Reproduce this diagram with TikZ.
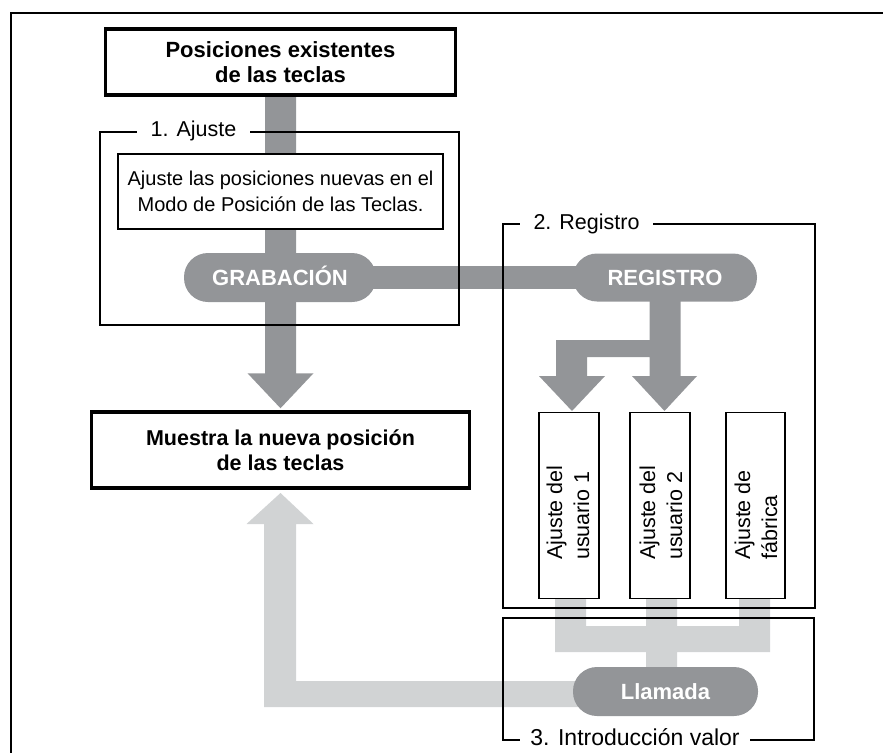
\documentclass[tikz,border=0pt]{standalone}
\usepackage{fontspec}
\setmainfont{Liberation Sans}
\usetikzlibrary{calc}
\definecolor{dkgray}{HTML}{939598}
\definecolor{ltgray}{HTML}{D1D3D4}
\pgfdeclarelayer{bg}
\pgfsetlayers{bg,main}
\begin{document}
\begin{tikzpicture}[x=1pt,y=-1pt,
  thickbox/.style={draw, line width=3.5pt, fill=white, inner sep=0pt, align=center,
    font=\bfseries\fontsize{22}{25}\selectfont},
  thinbox/.style={draw, line width=1.5pt, fill=white, inner sep=0pt},
  pill/.style={fill=dkgray, rounded corners=24pt, text=white, inner sep=0pt,
    text height=15.75pt, text depth=0pt,
    font=\bfseries\fontsize{22}{25}\selectfont},
  frameline/.style={draw, line width=1.4pt},
  flabel/.style={fill=white, inner xsep=14pt, inner ysep=1pt,
    font=\fontsize{21.5}{25}\selectfont},
  vtext/.style={rotate=90, anchor=west, align=left, inner sep=0pt,
    font=\fontsize{21.5}{27}\selectfont},
  darkbar/.style={fill=dkgray},
  lightbar/.style={fill=ltgray}]
\useasboundingbox (0,0) rectangle (883,752);

% outer frame
\draw[line width=1.5pt] (11,760) -- (11,13) -- (890,13);

% main boxes
\node[thickbox, minimum width=350pt, minimum height=66pt] (top) at (280.5,62) {Posiciones existentes\\de las teclas};
\node[thickbox, minimum width=378pt, minimum height=76pt,
  font=\bfseries\fontsize{21.5}{25}\selectfont] (muestra) at (280.5,450) {Muestra la nueva posición\\de las teclas};

% frame 1
\draw[frameline] (100,132) rectangle (459,325);
\node[flabel] (lab1) at (193.5,131) {1. Ajuste};
\node[thinbox, minimum width=325pt, minimum height=75pt, align=center,
  font=\fontsize{20}{26}\selectfont] (inst) at (280.5,191.5)
  {Ajuste las posiciones nuevas en el\\Modo de Posición de las Teclas.};

% pills
\node[pill, minimum width=192pt, minimum height=49pt] (grab) at (280,277.5) {GRABACIÓN};
\node[pill, minimum width=184pt, minimum height=48pt] (reg) at (665,277.5) {REGISTRO};
\node[pill, minimum width=185pt, minimum height=49pt] (llam) at (665.5,691.5) {Llamada};

% frame 2
\draw[frameline] (503,224) rectangle (815,608);
\node[flabel] (lab2) at (586.5,224) {2. Registro};

% setting boxes
\node[thinbox, minimum width=60pt, minimum height=186pt] (b1) at (569,505.5) {};
\node[thinbox, minimum width=60pt, minimum height=186pt] (b2) at (660,505.5) {};
\node[thinbox, minimum width=59pt, minimum height=186pt] (b3) at (755.5,505.5) {};
\node[vtext] (t1) at (568,560) {Ajuste del\\usuario 1};
\node[vtext] (t2) at (661,560) {Ajuste del\\usuario 2};
\node[vtext] (t3) at (756,560) {Ajuste de\\fábrica};

% frame 3
\draw[frameline] (503,618) rectangle (814,740);
\node[flabel, anchor=base, inner xsep=10pt, font=\fontsize{23}{28}\selectfont] (lab3) at (635,745.5) {3. Introducción valor};

% connectors (behind)
\coordinate (tipM) at ($(muestra.north)+(0,-2)$);
\coordinate (tip1) at (572,411);
\coordinate (tip2) at (664.5,411);
\coordinate (tipB) at (280.5,493);
\begin{pgfonlayer}{bg}
  % top -> muestra
  \fill[darkbar] ($(top.south)+(-15.5,0)$) -- ($(top.south)+(15.5,0)$)
    -- ($(tipM)+(15.5,-35)$) -- ($(tipM)+(33,-35)$) -- (tipM)
    -- ($(tipM)+(-33,-35)$) -- ($(tipM)+(-15.5,-35)$) -- cycle;
  % grabacion -> registro
  \draw[dkgray, line width=23pt] (grab.center) -- (reg.center);
  % registro -> user boxes
  \fill[darkbar] ($(reg.center)+(-15.5,0)$) -- ($(reg.center)+(15.5,0)$)
    -- ($(tip2)+(16,-35)$) -- ($(tip2)+(32.5,-35)$) -- (tip2)
    -- ($(tip2)+(-32.5,-35)$) -- ($(tip2)+(-15,-35)$)
    -- (649.5,357) -- (587,357) -- ($(tip1)+(15,-35)$)
    -- ($(tip1)+(33,-35)$) -- (tip1) -- ($(tip1)+(-33,-35)$)
    -- ($(tip1)+(-16,-35)$) -- (556,340) -- (649.5,340) -- cycle;
  % boxes -> llamada
  \fill[lightbar] (555,599) -- (586,599) -- (586,626) -- (646,626) -- (646,599)
    -- (677,599) -- (677,626) -- (739,626) -- (739,599) -- (770,599)
    -- (770,652) -- (677,652) -- (677,690) -- (646,690) -- (646,652)
    -- (555,652) -- cycle;
  % llamada -> muestra
  \fill[lightbar] (llam.center) -- ($(llam.center)+(0,-10.5)$) -- (296,681)
    -- ($(tipB)+(15.5,31)$) -- ($(tipB)+(33,31)$) -- (tipB)
    -- ($(tipB)+(-34,31)$) -- ($(tipB)+(-16.5,31)$) -- (264,707)
    -- ($(llam.center)+(0,15.5)$) -- cycle;
\end{pgfonlayer}
\end{tikzpicture}
\end{document}
